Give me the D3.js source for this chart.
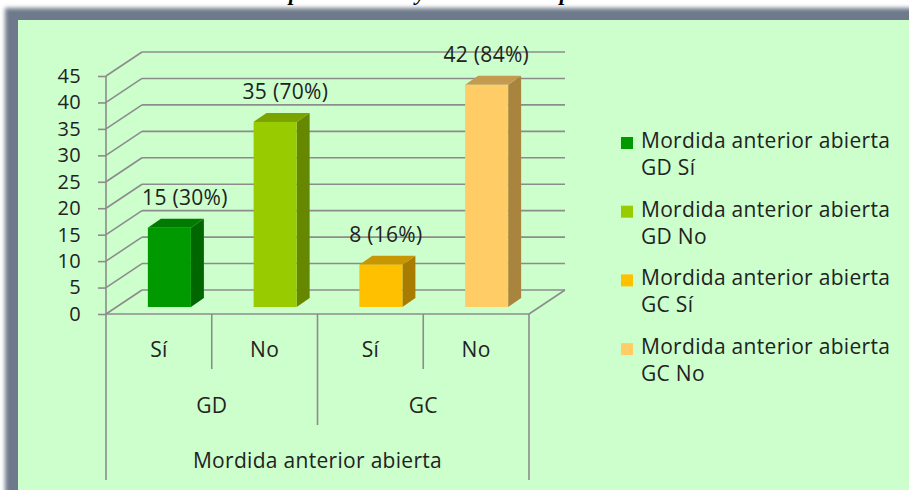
<!DOCTYPE html>
<html>
<head>
<meta charset="utf-8">
<script src="https://cdn.jsdelivr.net/npm/d3@7"></script>
<style>
  body { margin: 0; background: #fff; }
  svg { display: block; }
</style>
</head>
<body>
<svg id="chart" width="909" height="490"></svg>
<script>
// data
const groups = ['GD', 'GC'];
const answers = ['Sí', 'No'];
const values = [15, 35, 8, 42];
const percents = [30, 70, 16, 84];
const seriesNames = [
    ['Mordida anterior abierta', 'GD Sí'],
    ['Mordida anterior abierta', 'GD No'],
    ['Mordida anterior abierta', 'GC Sí'],
    ['Mordida anterior abierta', 'GC No'],
];
const axisTitle = 'Mordida anterior abierta';
const yTicks = d3.range(0, 46, 5);
const pageTitle = 'Mordida anterior abierta presente o no y su relación al paciente';

const frontColors = ['#009900', '#99cc00', '#ffc000', '#ffcc66'];
const sideColors = ['#006600', '#668800', '#a87c00', '#a8843f'];
const topColors = ['#007a00', '#7aa300', '#c89600', '#c49a50'];

const W = 909, H = 490;
const font = '"Open Sans", "Noto Sans", sans-serif';
const textStyle = sel => sel
    .style('font-family', font)
    .style('font-size', '21px')
    .style('letter-spacing', '0.3px')
    .attr('fill', '#222');

const svg = d3.select('#chart');

// frame
const defs = svg.append('defs');
defs.append('filter').attr('id', 'soft')
    .attr('x', '-5%').attr('y', '-5%').attr('width', '110%').attr('height', '110%')
    .append('feGaussianBlur').attr('stdDeviation', 2.2);

svg.append('rect')
    .attr('x', 5).attr('y', 8).attr('width', W + 40).attr('height', H + 40)
    .attr('fill', '#6e7a8b')
    .attr('filter', 'url(#soft)');
svg.append('rect')
    .attr('x', 18).attr('y', 20).attr('width', W).attr('height', H)
    .attr('fill', '#ccffcc');

// title, mostly cut off above the frame
const title = svg.append('text')
    .attr('y', 0)
    .style('font-family', '"Liberation Serif", "Times New Roman", serif')
    .style('font-style', 'italic')
    .style('font-weight', 'bold')
    .style('font-size', '22px')
    .attr('fill', '#000')
    .text(pageTitle);
const pIdx = pageTitle.indexOf('presente');
const pOffset = title.node().getSubStringLength(0, pIdx);
title.attr('x', 289 - pOffset);

// 3D geometry
const x0 = 106, x1 = 529;
const depthX = 36, depthY = -24;
const barFrontX = 10.5, barFrontY = -7;
const barDepthX = 13, barDepthY = -9;
const vanishX = 480;   // labels lean slightly toward this x (perspective)

const keys = values.map((d, i) => i);
const x = d3.scaleBand()
    .domain(keys)
    .range([x0, x1])
    .paddingInner(0.593)
    .paddingOuter(0.2965);
const y = d3.scaleLinear().domain([0, 45]).range([314, 76]);

const lineColor = '#8c8c8c';
const grid = svg.append('g').attr('class', 'grid')
    .attr('stroke', lineColor).attr('stroke-width', 1.6).attr('fill', 'none');

// back wall gridlines
grid.selectAll('.back')
    .data(yTicks)
    .join('line')
    .attr('x1', x0 + depthX).attr('x2', x1 + depthX)
    .attr('y1', d => y(d) + depthY).attr('y2', d => y(d) + depthY);

// side wall diagonals
grid.selectAll('.side')
    .data(yTicks)
    .join('line')
    .attr('x1', x0).attr('x2', x0 + depthX)
    .attr('y1', d => y(d)).attr('y2', d => y(d) + depthY);

// floor right edge
grid.append('line')
    .attr('x1', x1).attr('y1', y(0))
    .attr('x2', x1 + depthX).attr('y2', y(0) + depthY);

// y axis
const yAxis = svg.append('g')
    .attr('transform', `translate(${x0},0)`)
    .call(d3.axisLeft(y).tickValues(yTicks).tickSize(8).tickPadding(17));
yAxis.selectAll('line, path').attr('stroke', lineColor).attr('stroke-width', 1.6);
yAxis.select('.domain').attr('d', `M0,${y(45)}V${y(0)}`);
yAxis.selectAll('text').call(textStyle).style('font-size', '20px');

// floor front edge
svg.append('line')
    .attr('x1', x0).attr('x2', x1)
    .attr('y1', y(0)).attr('y2', y(0))
    .attr('stroke', lineColor).attr('stroke-width', 1.6);

// bars
const bars = svg.append('g').attr('class', 'bars');
values.forEach((v, i) => {
    const xl = x(i) + barFrontX;
    const xr = xl + x.bandwidth();
    const yt = y(v) + barFrontY;
    const yb = y(0) + barFrontY;
    const cx = xl + x.bandwidth() / 2;
    const g = bars.append('g');
    g.append('path')
        .attr('d', `M${xr},${yt}L${xr + barDepthX},${yt + barDepthY}L${xr + barDepthX},${yb + barDepthY}L${xr},${yb}Z`)
        .attr('fill', sideColors[i]);
    g.append('path')
        .attr('d', `M${xl},${yt}L${xl + barDepthX},${yt + barDepthY}L${xr + barDepthX},${yt + barDepthY}L${xr},${yt}Z`)
        .attr('fill', topColors[i]);
    g.append('rect')
        .attr('x', xl).attr('y', yt)
        .attr('width', x.bandwidth()).attr('height', yb - yt)
        .attr('fill', frontColors[i]);
    g.append('text')
        .attr('x', cx + 0.05 * (vanishX - cx))
        .attr('y', yt + barDepthY - 14)
        .attr('text-anchor', 'middle')
        .call(textStyle)
        .text(`${v} (${percents[i]}%)`);
});

// category axis (multi-level)
const cat = svg.append('g').attr('class', 'categories')
    .attr('stroke', lineColor).attr('stroke-width', 1.6);
const step = x.step();
const bottom = y(0);
// separators between answers, groups and the outer edges
keys.forEach(i => {
    if (i === 0) return;
    const sx = x0 + step * i;
    const isGroupEdge = i % answers.length === 0;
    cat.append('line')
        .attr('x1', sx).attr('x2', sx)
        .attr('y1', bottom).attr('y2', isGroupEdge ? bottom + 111 : bottom + 55);
});
[x0, x1].forEach(sx => {
    cat.append('line')
        .attr('x1', sx).attr('x2', sx)
        .attr('y1', bottom).attr('y2', bottom + 166);
});

const labels = svg.append('g').attr('text-anchor', 'middle');
keys.forEach(i => {
    labels.append('text')
        .attr('x', x(i) + x.bandwidth() / 2)
        .attr('y', bottom + 43)
        .call(textStyle)
        .text(answers[i % answers.length]);
});
groups.forEach((gName, gi) => {
    labels.append('text')
        .attr('x', x0 + step * answers.length * (gi + 0.5))
        .attr('y', bottom + 99)
        .call(textStyle)
        .text(gName);
});
labels.append('text')
    .attr('x', (x0 + x1) / 2)
    .attr('y', bottom + 154)
    .call(textStyle)
    .text(axisTitle);

// legend
const legend = svg.append('g').attr('transform', 'translate(621,137)');
seriesNames.forEach((lines, i) => {
    const item = legend.append('g').attr('transform', `translate(0,${i * 68.7})`);
    item.append('rect')
        .attr('width', 12).attr('height', 12)
        .attr('fill', frontColors[i]);
    const t = item.append('text')
        .attr('x', 20).attr('y', 11)
        .call(textStyle);
    lines.forEach((ln, li) => {
        t.append('tspan').attr('x', 20).attr('dy', li === 0 ? 0 : 27).text(ln);
    });
});
</script>
</body>
</html>
